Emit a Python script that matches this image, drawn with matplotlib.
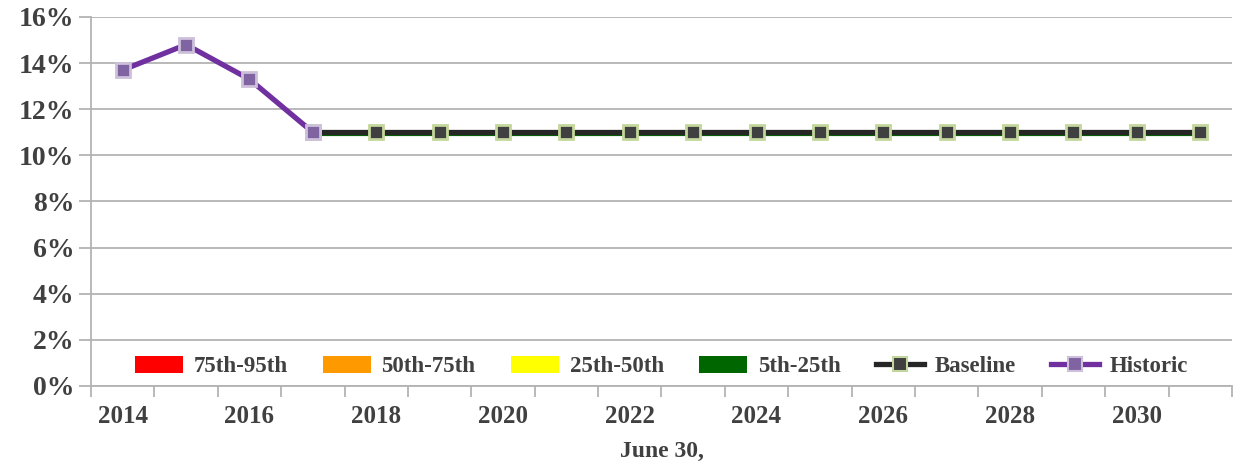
import matplotlib.pyplot as plt
from matplotlib.patches import Patch
from matplotlib.lines import Line2D
from matplotlib.ticker import FuncFormatter
import numpy as np

# values in percent
hist_years = [2014, 2015, 2016, 2017]
hist_vals = [13.7, 14.8, 13.3, 11.0]

base_years = list(range(2017, 2032))
base_vals = [11.0] * len(base_years)

# 5th-25th band, only its lower edge peeks out below the baseline
band_years = list(range(2017, 2032))
band_vals = [10.92] * len(band_years)

band_names = ['75th-95th', '50th-75th', '25th-50th', '5th-25th']
band_colors = ['#ff0000', '#ff9900', '#ffff00', '#006600']

txt = '#404040'
grid = '#b3b3b3'

plt.rcParams['font.family'] = ['Liberation Serif', 'DejaVu Serif']
plt.rcParams['font.weight'] = 'bold'

fig = plt.figure(figsize=(12.41, 4.65), dpi=100)
ax = fig.add_axes([0.0733, 0.170, 0.9194, 0.7935])

ax.plot(band_years, band_vals, color=band_colors[3], lw=3,
        solid_capstyle='projecting', zorder=2)
ax.plot(base_years, base_vals, color='#262626', lw=3.8, marker='s', ms=10,
        mfc='#404040', mec='#c3d69b', mew=2, zorder=3)
ax.plot(hist_years, hist_vals, color='#7030a0', lw=3.8, marker='s', ms=10,
        mfc='#8064a2', mec='#ccc0da', mew=2, zorder=4)

ax.set_xlim(2013.5, 2031.5)
ax.set_ylim(0, 16)
ax.set_yticks(np.arange(0, 17, 2))
ax.yaxis.set_major_formatter(FuncFormatter(lambda v, p: f'{v:.0f}%'))
ax.grid(axis='y', color=grid, lw=1.3)
ax.set_axisbelow(True)

ax.set_xticks(range(2014, 2032, 2))
ax.set_xticks(np.arange(2013.5, 2032, 1), minor=True)
ax.tick_params(axis='x', which='major', length=0, pad=14, labelsize=18, labelcolor=txt)
ax.tick_params(axis='x', which='minor', length=8, color=grid, width=1.3)
ax.tick_params(axis='y', length=9, color=grid, width=1.3, labelsize=20, labelcolor=txt, pad=3)

for s in ['top', 'right']:
    ax.spines[s].set_visible(False)
for s in ['left', 'bottom']:
    ax.spines[s].set_color(grid)
    ax.spines[s].set_linewidth(1.3)

ax.set_xlabel('June 30,', fontsize=17, fontweight='bold', color=txt, labelpad=9)

handles = [Patch(facecolor=c, edgecolor='none', label=n) for n, c in zip(band_names, band_colors)]
handles.append(Line2D([], [], color='#262626', lw=3.8, marker='s', ms=10,
                      mfc='#404040', mec='#c3d69b', mew=1.5, label='Baseline'))
handles.append(Line2D([], [], color='#7030a0', lw=3.8, marker='s', ms=10,
                      mfc='#8064a2', mec='#ccc0da', mew=1.5, label='Historic'))
leg = ax.legend(handles=handles, loc='center', bbox_to_anchor=(0.5, 0.052), ncol=6,
                frameon=False, fontsize=16.5, handlelength=2.1, handleheight=0.75,
                handletextpad=0.45, columnspacing=1.55)
for t in leg.get_texts():
    t.set_color(txt)

fig.savefig('out.png', dpi=100)
